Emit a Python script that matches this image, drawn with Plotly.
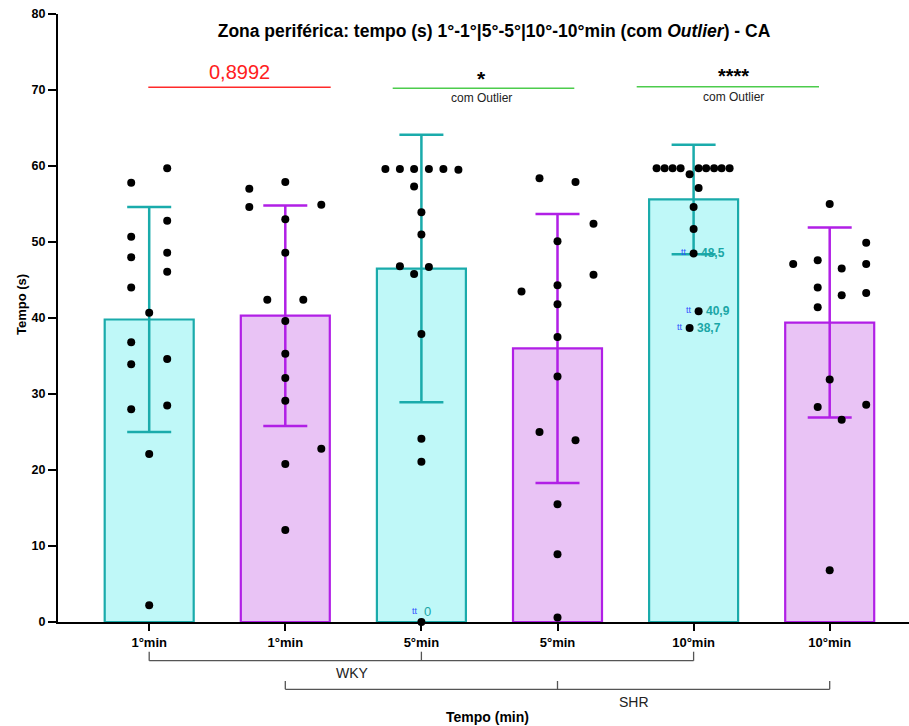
import plotly.graph_objects as go

# ---------------- data ----------------
categories = ["1°min", "1°min", "5°min", "5°min", "10°min", "10°min"]
groups = ["WKY", "SHR", "WKY", "SHR", "WKY", "SHR"]
means = [39.8, 40.3, 46.5, 36.0, 55.6, 39.4]
sds = [14.8, 14.5, 17.6, 17.7, 7.2, 12.5]

pts_wky_1 = [59.7, 57.8, 52.8, 50.7, 48.0, 48.6, 46.1, 44.0, 40.7, 36.8, 33.9, 34.6, 28.0, 28.5, 22.1, 2.2]
pts_shr_1 = [57.9, 57.0, 54.6, 54.9, 53.0, 48.6, 42.4, 42.4, 39.6, 35.3, 32.1, 29.1, 22.8, 20.8, 12.1]
pts_wky_5 = [59.6, 59.6, 59.6, 59.6, 59.6, 59.5, 57.3, 53.9, 51.0, 46.8, 46.7, 45.8, 37.9, 24.1, 21.1, 0.0]
pts_shr_5 = [58.4, 57.9, 52.4, 50.1, 45.7, 43.5, 44.3, 41.8, 37.5, 32.3, 25.0, 23.9, 15.5, 8.9, 0.6]
pts_wky_10 = [59.7, 59.7, 59.7, 59.7, 59.7, 59.7, 59.7, 59.7, 59.7, 58.9, 57.1, 54.6, 51.7, 48.5, 40.9, 38.7]
pts_shr_10 = [55.0, 49.9, 47.1, 47.6, 46.5, 47.1, 44.0, 43.0, 43.3, 41.4, 31.9, 28.3, 28.6, 26.6, 6.8]

# horizontal swarm offsets of the dots (pixels from the bar centre)
swarm_wky_1 = [18, -18, 18, -18, -18, 18, 18, -18, 0, -18, -18, 18, -18, 18, 0, 0]
swarm_shr_1 = [0, -36, -36, 36, 0, 0, -18, 18, 0, 0, 0, 0, 36, 0, 0]
swarm_wky_5 = [-36, -21.5, -7.3, 7.5, 22, 37, -7.3, 0, 0, -21.5, 7.5, -7.3, 0, 0, 0, 0]
swarm_shr_5 = [-18, 18, 36, 0, 36, -36, 0, 0, 0, 0, -18, 18, 0, 0, 0]
swarm_wky_10 = [-37, -29, -21, -13, 5, 12.5, 20.5, 28, 36, -4, 5, 0, 0, 0, 5, -4]
swarm_shr_10 = [0, 36.5, -36.5, -12, 12, 36.5, -12, 12, 36.5, -12, 0, -12, 36.5, 12, 0]

all_pts = [pts_wky_1, pts_shr_1, pts_wky_5, pts_shr_5, pts_wky_10, pts_shr_10]
all_swarm = [swarm_wky_1, swarm_shr_1, swarm_wky_5, swarm_shr_5, swarm_wky_10, swarm_shr_10]

# labelled points: (category index, value, label)
labelled = [(4, 48.5, "48,5"), (4, 40.9, "40,9"), (4, 38.7, "38,7")]

# ---------------- layout geometry ----------------
W, H = 909, 726
ML, MR, MT, MB = 58, 0, 14, 104
PW, PH = W - ML - MR, H - MT - MB
CAT0_PX, CAT_STEP = 149.2, 136.1
X0 = (ML - CAT0_PX) / CAT_STEP
X1 = (W - MR - CAT0_PX) / CAT_STEP

def cat_px(c):
    return CAT0_PX + CAT_STEP * c

def xpaper(px):
    return (px - ML) / PW

def ypaper(py):
    return (H - MB - py) / PH

FONT = "Liberation Sans, Arial, sans-serif"
TEAL, TEAL_FILL = "#1aabab", "#bff8f8"
PURP, PURP_FILL = "#b11fe6", "#e9c3f5"

fig = go.Figure()

for grp, line_c, fill_c in [("WKY", TEAL, TEAL_FILL), ("SHR", PURP, PURP_FILL)]:
    idx = [i for i, g in enumerate(groups) if g == grp]
    fig.add_trace(go.Bar(
        x=idx, y=[means[i] for i in idx],
        width=0.654,
        marker=dict(color=fill_c, line=dict(color=line_c, width=2.2)),
        error_y=dict(type="data", array=[sds[i] for i in idx], color=line_c,
                     thickness=2.5, width=22),
        showlegend=False, name=grp,
    ))

xs, ys = [], []
for i, (pts, sw) in enumerate(zip(all_pts, all_swarm)):
    for v, o in zip(pts, sw):
        xs.append(i + o / CAT_STEP)
        ys.append(v)
fig.add_trace(go.Scatter(
    x=xs, y=ys, mode="markers",
    marker=dict(color="black", size=8),
    cliponaxis=False, showlegend=False,
))

annotations = []
shapes = []

def point_x(ci, v):
    for pv, o in zip(all_pts[ci], all_swarm[ci]):
        if abs(pv - v) < 1e-9:
            return ci + o / CAT_STEP
    return ci

for ci, v, lab in labelled:
    px = point_x(ci, v)
    annotations.append(dict(x=px, y=v, xref="x", yref="y", text="<b>" + lab + "</b>",
                            showarrow=False, xanchor="left", xshift=5,
                            font=dict(family=FONT, size=12, color="#1aa6a6")))
    annotations.append(dict(x=px, y=v, xref="x", yref="y", text="tt",
                            showarrow=False, xanchor="right", xshift=-5, yshift=1,
                            font=dict(family=FONT, size=9, color="#3050ff")))
# zero point label
annotations.append(dict(x=2, y=0, xref="x", yref="y", text="0", showarrow=False,
                        xanchor="left", xshift=1, yshift=11,
                        font=dict(family=FONT, size=13, color="#1aa6a6")))
annotations.append(dict(x=2, y=0, xref="x", yref="y", text="tt", showarrow=False,
                        xanchor="right", xshift=-1, yshift=11,
                        font=dict(family=FONT, size=9, color="#3050ff")))

# significance lines: (x0 px, x1 px, y px, colour, text, font, text centre x, text y, "com Outlier" y)
sig = [
    (148.3, 330.7, 87.3, "#ff2a2a", "0,8992", dict(size=20, color="#ff2020"), 239.7, 72.3, None),
    (392.7, 574.3, 88.3, "#4ccc4c", "<b>*</b>", dict(size=21, color="black"), 481, 78, 98.3),
    (636.7, 819.0, 86.7, "#4ccc4c", "<b>****</b>", dict(size=20, color="black"), 733, 76, 96.7),
]
for x0p, x1p, yp, col, txt, fnt, cx, ty, outy in sig:
    shapes.append(dict(type="line", xref="paper", yref="paper",
                       x0=xpaper(x0p), x1=xpaper(x1p), y0=ypaper(yp), y1=ypaper(yp),
                       line=dict(color=col, width=1.6)))
    annotations.append(dict(x=xpaper(cx), y=ypaper(ty), xref="paper", yref="paper",
                            text=txt, showarrow=False, xanchor="center", yanchor="middle",
                            font=dict(family=FONT, **fnt)))
    if outy is not None:
        annotations.append(dict(x=xpaper(cx), y=ypaper(outy), xref="paper", yref="paper",
                                text="com Outlier", showarrow=False, xanchor="center",
                                yanchor="middle",
                                font=dict(family=FONT, size=12, color="#222")))

# group brackets under x axis
BR = "#555555"
for (ca, cm, cb), ly, ty_end, lab, lab_px, lab_py in [
    ((0, 2, 4), 660.7, 651.7, "WKY", 352, 673.3),
    ((1, 3, 5), 689.3, 681.0, "SHR", 634, 701.7),
]:
    xa, xm, xb = cat_px(ca), cat_px(cm), cat_px(cb)
    shapes.append(dict(type="line", xref="paper", yref="paper",
                       x0=xpaper(xa), x1=xpaper(xb), y0=ypaper(ly), y1=ypaper(ly),
                       line=dict(color=BR, width=1.3)))
    for xx in (xa, xm, xb):
        shapes.append(dict(type="line", xref="paper", yref="paper",
                           x0=xpaper(xx), x1=xpaper(xx), y0=ypaper(ly), y1=ypaper(ty_end),
                           line=dict(color=BR, width=1.3)))
    annotations.append(dict(x=xpaper(lab_px), y=ypaper(lab_py), xref="paper", yref="paper",
                            text=lab, showarrow=False, xanchor="center", yanchor="middle",
                            font=dict(family=FONT, size=14, color="#222")))

# axis titles
annotations.append(dict(x=xpaper(487), y=ypaper(717), xref="paper", yref="paper",
                        text="<b>Tempo (min)</b>", showarrow=False, xanchor="center",
                        yanchor="middle", font=dict(family=FONT, size=14, color="black")))
annotations.append(dict(x=xpaper(22), y=ypaper(305), xref="paper", yref="paper",
                        text="<b>Tempo (s)</b>", showarrow=False, textangle=-90,
                        xanchor="center", yanchor="middle",
                        font=dict(family=FONT, size=13, color="black")))

fig.update_layout(
    width=W, height=H,
    margin=dict(l=ML, r=MR, t=MT, b=MB, pad=0),
    paper_bgcolor="white", plot_bgcolor="white",
    barmode="overlay",
    title=dict(text="<b>Zona periférica: tempo (s) 1°-1°|5°-5°|10°-10°min (com <i>Outlier</i>) - CA</b>",
               x=494 / W, xanchor="center", xref="container",
               y=1 - 31 / H, yanchor="middle", yref="container",
               font=dict(family=FONT, size=17.5, color="black")),
    xaxis=dict(range=[X0, X1], tickmode="array", tickvals=list(range(6)), ticktext=categories,
               showline=True, linecolor="black", linewidth=2, ticks="outside", ticklen=7,
               tickwidth=2, tickcolor="black", showgrid=False, zeroline=False,
               tickfont=dict(family=FONT, size=13, color="black", weight="bold")),
    yaxis=dict(range=[0, 80], tickmode="array", tickvals=list(range(0, 81, 10)),
               showline=True, linecolor="black", linewidth=2, ticks="outside", ticklen=8,
               tickwidth=2, tickcolor="black", showgrid=False, zeroline=False,
               tickfont=dict(family=FONT, size=12.5, color="black", weight="bold")),
    annotations=annotations, shapes=shapes,
)

fig.write_html("out.html")
